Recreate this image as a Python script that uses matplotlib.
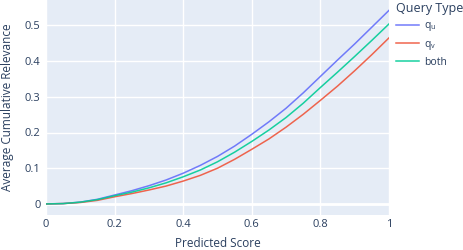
import matplotlib
matplotlib.use('Agg')
from matplotlib import pyplot as plt

plt.rcParams['font.family'] = ['Open Sans', 'DejaVu Sans']

# predicted score grid and cumulative relevance per query type
scores = [0, 0.05, 0.1, 0.15, 0.2, 0.25, 0.3, 0.35, 0.4, 0.45, 0.5,
          0.55, 0.6, 0.65, 0.7, 0.75, 0.8, 0.85, 0.9, 0.95, 1.0]
rel_qu = [0, 0.001, 0.005, 0.013, 0.025, 0.037, 0.051, 0.067, 0.086, 0.108, 0.133,
          0.162, 0.195, 0.230, 0.268, 0.311, 0.357, 0.403, 0.448, 0.495, 0.542]
rel_qv = [0, 0.001, 0.004, 0.010, 0.020, 0.029, 0.039, 0.050, 0.064, 0.080, 0.100,
          0.125, 0.153, 0.182, 0.215, 0.251, 0.290, 0.330, 0.373, 0.418, 0.465]
rel_both = [0, 0.001, 0.005, 0.012, 0.023, 0.033, 0.045, 0.059, 0.076, 0.095, 0.118,
            0.145, 0.175, 0.207, 0.242, 0.282, 0.326, 0.369, 0.413, 0.458, 0.504]
xticks = [0, 0.2, 0.4, 0.6, 0.8, 1]
xtick_labels = ['0', '0.2', '0.4', '0.6', '0.8', '1']
yticks = [0, 0.1, 0.2, 0.3, 0.4, 0.5]
ytick_labels = ['0', '0.1', '0.2', '0.3', '0.4', '0.5']

txt = '#2a3f5f'
fig = plt.figure(figsize=(4.64, 2.5), dpi=100)
ax = fig.add_axes([46/464, 1 - 215/250, 343/464, 215/250])
ax.set_facecolor('#E5ECF6')

ax.plot(scores, rel_qu, color='#636efa', lw=1.1, alpha=0.9, label=r'q$_{\mathregular{u}}$', zorder=3)
ax.plot(scores, rel_qv, color='#EF553B', lw=1.1, alpha=0.9, label=r'q$_{\mathregular{v}}$', zorder=3)
ax.plot(scores, rel_both, color='#00cc96', lw=1.1, alpha=0.9, label='both', zorder=3)

ax.set_xlim(0, 1)
ax.set_ylim(-0.031, 0.571)
ax.set_xticks(xticks, xtick_labels)
ax.set_yticks(yticks, ytick_labels)
ax.grid(True, color='white', lw=1.0)
ax.axhline(0, color='white', lw=2, zorder=1)
ax.set_axisbelow(True)
for s in ax.spines.values():
    s.set_visible(False)
ax.tick_params(axis='both', length=0, labelsize=8, labelcolor=txt)
ax.tick_params(axis='x', pad=3)
ax.tick_params(axis='y', pad=4)

ax.set_xlabel('Predicted Score', fontsize=8.5, color=txt, labelpad=5)
ax.set_ylabel('Average Cumulative Relevance', fontsize=8.5, color=txt, labelpad=8)

leg = fig.legend(loc='upper left', bbox_to_anchor=(392/464, 1 + 2/250),
                 title='Query Type', frameon=False, fontsize=7.5,
                 title_fontsize=9, alignment='left', handlelength=2.2,
                 handletextpad=0.5, labelspacing=0.5, borderaxespad=0)
for t in leg.get_texts():
    t.set_color(txt)
leg.get_title().set_color(txt)

plt.savefig('out.png', dpi=100)
